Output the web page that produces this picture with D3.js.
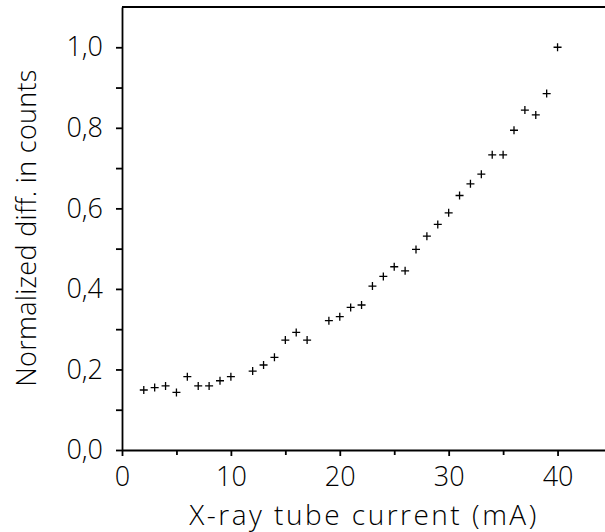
<!DOCTYPE html>
<html>
<head>
<meta charset="utf-8">
<script src="https://cdn.jsdelivr.net/npm/d3@7"></script>
<style>
body { margin: 0; background: #fff; }
svg text { font-family: "Open Sans", "Liberation Sans", Arial, sans-serif; font-weight: 300; fill: #000; }
</style>
</head>
<body>
<svg id="chart"></svg>
<script>
// tube current (mA) and normalized difference in counts
const current = [2, 3, 4, 5, 6, 7, 8, 9, 10, 12, 13, 14, 15, 16, 17, 19, 20, 21, 22, 23, 24, 25, 26, 27, 28, 29, 30, 31, 32, 33, 34, 35, 36, 37, 38, 39, 40];
const diff = [0.149, 0.155, 0.159, 0.143, 0.182, 0.159, 0.159, 0.172, 0.182, 0.196, 0.211, 0.230, 0.273, 0.292, 0.273, 0.321, 0.331, 0.354, 0.360, 0.407, 0.431, 0.455, 0.445, 0.498, 0.531, 0.560, 0.589, 0.632, 0.661, 0.685, 0.733, 0.733, 0.794, 0.844, 0.832, 0.885, 1.000];

const xMajor = [0, 10, 20, 30, 40];
const xMinor = [5, 15, 25, 35];
const yMajor = [0, 0.2, 0.4, 0.6, 0.8, 1.0];
const yMinor = [0.1, 0.3, 0.5, 0.7, 0.9];

const xTitle = "X-ray tube current (mA)";
const yTitle = "Normalized diff. in counts";

const margin = {top: 7, left: 122};
const width = 490, height = 443;

const svg = d3.select("#chart")
    .attr("width", 605)
    .attr("height", 532);

const g = svg.append("g")
    .attr("transform", `translate(${margin.left}, ${margin.top})`);

const x = d3.scaleLinear().domain([0, 45]).range([0, width]);
const y = d3.scaleLinear().domain([0, 1.1]).range([height, 0]);

const commaFmt = d => d3.format(".1f")(d).replace(".", ",");

// minor ticks first, then the main axes on top
g.append("g")
    .attr("class", "minor")
    .attr("transform", `translate(0, ${height})`)
    .call(d3.axisBottom(x).tickValues(xMinor).tickSize(5).tickFormat(""));
g.append("g")
    .attr("class", "minor")
    .call(d3.axisLeft(y).tickValues(yMinor).tickSize(6).tickFormat(""));
g.selectAll(".minor .domain").remove();

const xAxis = g.append("g")
    .attr("transform", `translate(0, ${height})`)
    .call(d3.axisBottom(x).tickValues(xMajor).tickSizeInner(6).tickSizeOuter(0).tickPadding(11));

const yAxis = g.append("g")
    .call(d3.axisLeft(y).tickValues(yMajor).tickFormat(commaFmt).tickSizeInner(6).tickSizeOuter(0).tickPadding(13));

g.selectAll(".tick text")
    .attr("font-family", null)
    .style("font-size", "27px");
g.selectAll(".domain, .tick line")
    .attr("stroke", "#000")
    .attr("stroke-width", 1.8);

// top frame line
g.append("line")
    .attr("x1", 0).attr("x2", width)
    .attr("y1", 0).attr("y2", 0)
    .attr("stroke", "#000")
    .attr("stroke-width", 1.8);

// data points as plus markers
g.selectAll("path.pt")
    .data(current.map((c, i) => ({c: c, v: diff[i]})))
    .join("path")
    .attr("class", "pt")
    .attr("transform", d => `translate(${x(d.c)}, ${y(d.v)})`)
    .attr("d", "M-4,0H4M0,-4V4")
    .attr("stroke", "#000")
    .attr("stroke-width", 1.3)
    .attr("fill", "none");

svg.append("text")
    .attr("x", 364)
    .attr("y", 525)
    .attr("text-anchor", "middle")
    .style("font-size", "28px")
    .style("letter-spacing", "2.5px")
    .text(xTitle);

svg.append("text")
    .attr("transform", "translate(36, 228) rotate(-90)")
    .attr("text-anchor", "middle")
    .style("font-size", "27px")
    .style("letter-spacing", "0.3px")
    .text(yTitle);
</script>
</body>
</html>
